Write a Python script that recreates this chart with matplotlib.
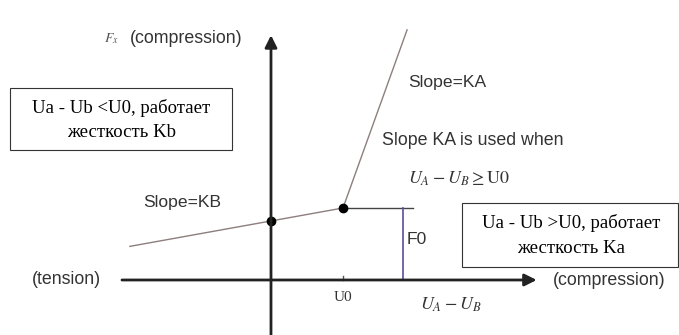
import numpy as np
import matplotlib.pyplot as plt
from matplotlib.patches import Rectangle

# силы и перемещения в условных единицах (U0 = 1, F0 = 1)
u0 = 1.0
f0 = 1.0
kb = 0.18     # наклон KB
ka = 2.78     # наклон KA
kb_x = [-1.96, u0]
ka_x = [u0, 1.89]
f0_line_x = 1.83
f0_shelf_x = [u0, 1.97]
x_axis = [-2.07, 3.69]
y_axis = [-0.76, 3.40]

box_left = "Ua - Ub <U0, работает\nжесткость Kb"
box_right = "Ua - Ub >U0, работает\nжесткость Ka"

plt.rcParams['font.family'] = ['Liberation Sans', 'DejaVu Sans']
plt.rcParams['mathtext.fontset'] = 'stix'
fig = plt.figure(figsize=(6.79, 3.35), dpi=100)
ax = fig.add_axes([0, 0, 1, 1])
ax.set_xlim(-3.764, 5.667)
ax.set_ylim(-0.764, 3.889)
ax.axis('off')

txt = '#333333'
line_c = '#8c7f7c'

# оси
ax.annotate('', xy=(x_axis[1], 0), xytext=(x_axis[0], 0),
            arrowprops=dict(arrowstyle='-|>', lw=2, color='#222222', mutation_scale=18,
                            shrinkA=0, shrinkB=0))
ax.annotate('', xy=(0, y_axis[1]), xytext=(0, y_axis[0]),
            arrowprops=dict(arrowstyle='-|>', lw=2, color='#222222', mutation_scale=18,
                            shrinkA=0, shrinkB=0))
ax.plot([u0, u0], [0, 0.05], color='#555555', lw=1)

# характеристика
kb_y = [f0 - kb * (u0 - x) for x in kb_x]
ka_y = [f0 + ka * (x - u0) for x in ka_x]
ax.plot(kb_x, kb_y, color=line_c, lw=1)
ax.plot(ka_x, ka_y, color=line_c, lw=1)
ax.plot(f0_shelf_x, [f0, f0], color='#444444', lw=1)
ax.plot([f0_line_x, f0_line_x], [0, f0], color='#5a4ea0', lw=1.2)
ax.plot([0, u0], [f0 - kb * u0, f0], 'o', color='black', ms=6)

# подписи
ax.text(-2.22, 3.35, r'$F_x$', fontsize=10, color='#555555', ha='center', va='center')
ax.text(-1.96, 3.36, '(compression)', fontsize=12.8, color=txt, va='center')
ax.text(1.90, 2.75, 'Slope=KA', fontsize=12.6, color=txt, va='center')
ax.text(1.54, 1.94, 'Slope KA is used when', fontsize=12.8, color=txt, va='center')
ax.text(1.90, 1.41, r'$U_A - U_B \geq \mathrm{U0}$', fontsize=13, color=txt, va='center')
ax.text(-1.78, 1.07, 'Slope=KB', fontsize=12.6, color=txt, va='center')
ax.text(1.89, 0.56, 'F0', fontsize=12.6, color=txt, va='center')
ax.text(-3.32, 0.01, '(tension)', fontsize=12.8, color=txt, va='center')
ax.text(3.92, -0.01, '(compression)', fontsize=12.8, color=txt, va='center')
ax.text(u0, -0.24, 'U0', fontsize=11, color=txt, ha='center', va='center',
        family='Liberation Serif')
ax.text(2.07, -0.35, r'$U_A - U_B$', fontsize=13, color=txt, va='center')

# пояснения в рамках
ax.add_patch(Rectangle((-3.625, 1.806), 3.083, 0.861, fc='white', ec='#333333', lw=0.8))
ax.add_patch(Rectangle((2.653, 0.181), 3.0, 0.888, fc='white', ec='#333333', lw=0.8))
ax.text(-2.08, 2.22, box_left, fontsize=13.5, family='Liberation Serif', ha='center',
        va='center', linespacing=1.55)
ax.text(4.17, 0.62, box_right, fontsize=13.5, family='Liberation Serif', ha='center',
        va='center', linespacing=1.6)

fig.savefig('out.png', dpi=100)
